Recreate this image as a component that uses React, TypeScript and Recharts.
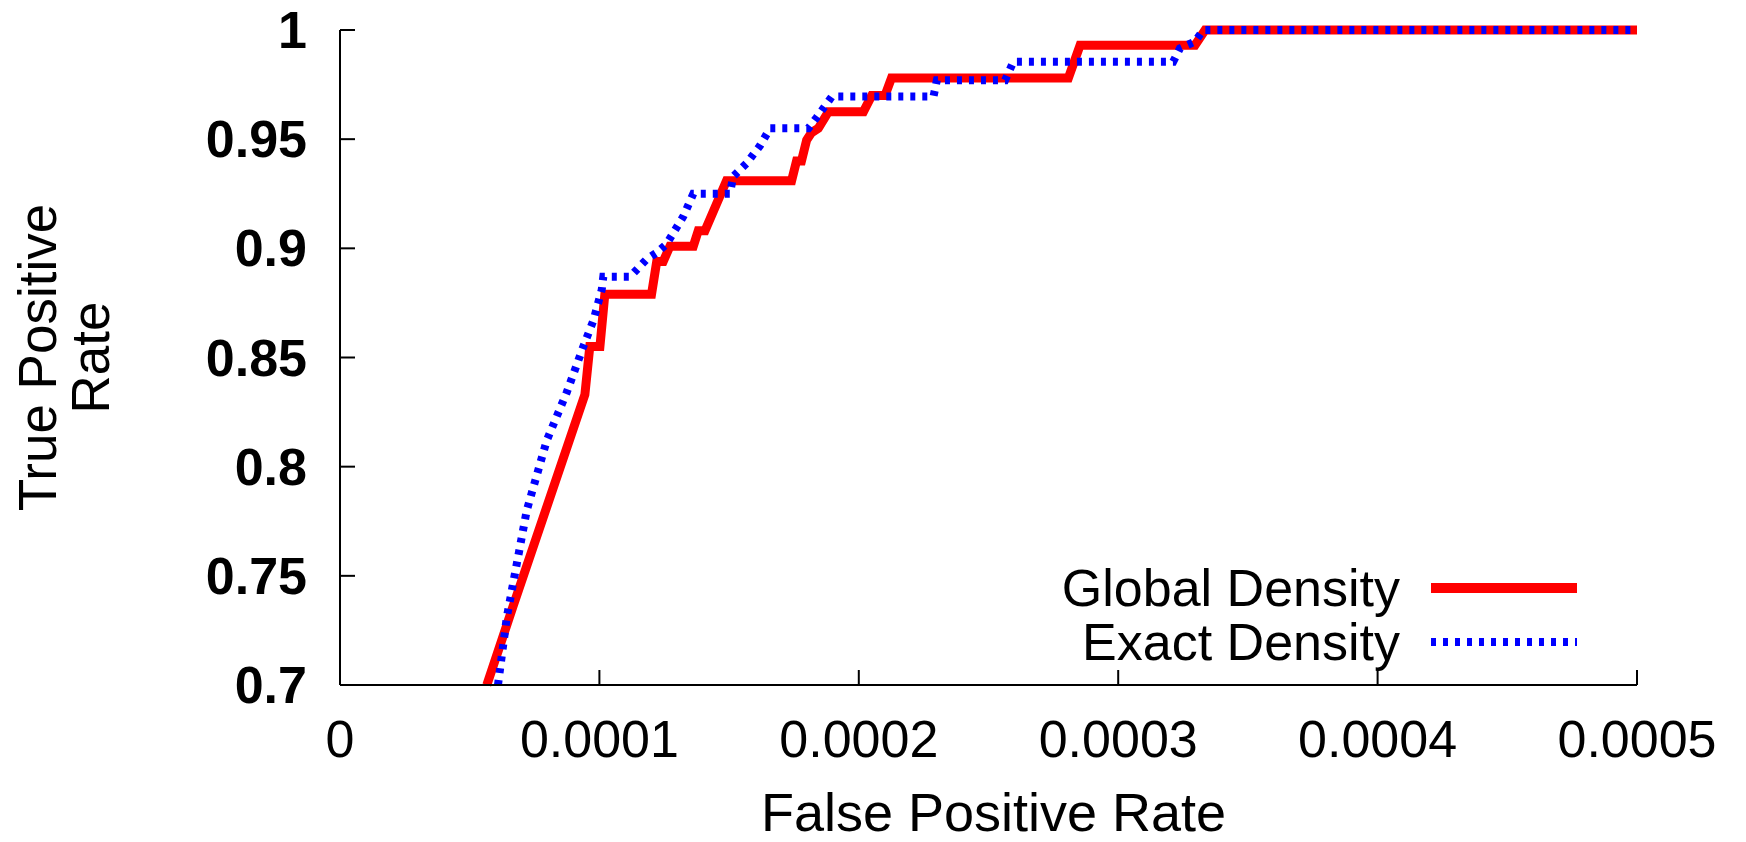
import React from "react";
import { LineChart, Line, XAxis, YAxis, Legend } from "recharts";

// ---------- data ----------
const globalX = [
  0.0000566, 0.0000667, 0.0000944, 0.0000963, 0.0001002, 0.0001021, 0.0001201, 0.0001221,
  0.0001246, 0.0001272, 0.0001362, 0.0001381, 0.0001407, 0.0001490, 0.0001741, 0.0001760,
  0.0001779, 0.0001799, 0.0001818, 0.0001844, 0.0001883, 0.0002018, 0.0002050, 0.0002101,
  0.0002126, 0.0002808, 0.0002853, 0.0003296, 0.0003335, 0.0005,
];
const globalY = [
  0.700, 0.736, 0.833, 0.855, 0.855, 0.879, 0.879, 0.894,
  0.894, 0.901, 0.901, 0.908, 0.908, 0.931, 0.931, 0.940,
  0.940, 0.9496, 0.953, 0.955, 0.9626, 0.9626, 0.970, 0.970,
  0.978, 0.978, 0.993, 0.993, 1.0, 1.0,
];
const exactX = [
  0.0000609, 0.0000643, 0.0000720, 0.0000797, 0.0000874, 0.0000938, 0.0000977, 0.0001009,
  0.0001015, 0.0001118, 0.0001182, 0.0001221, 0.0001259, 0.0001323, 0.0001362, 0.0001503,
  0.0001516, 0.0001568, 0.0001619, 0.0001658, 0.0001806, 0.0001838, 0.0001896, 0.0002288,
  0.0002301, 0.0002564, 0.0002596, 0.0003212, 0.0003238, 0.0003296, 0.0003328, 0.0005,
];
const exactY = [
  0.700, 0.731, 0.780, 0.812, 0.834, 0.855, 0.867, 0.881,
  0.887, 0.887, 0.895, 0.898, 0.902, 0.9145, 0.925, 0.925,
  0.933, 0.939, 0.947, 0.955, 0.955, 0.960, 0.9695, 0.9695,
  0.977, 0.977, 0.9855, 0.9855, 0.9916, 0.9947, 1.0, 1.0,
];
const seriesNames = ["Global Density", "Exact Density"];
const xTicks = [0, 0.0001, 0.0002, 0.0003, 0.0004, 0.0005];
const xTickLabels = ["0", "0.0001", "0.0002", "0.0003", "0.0004", "0.0005"];
const yTicks = [0.7, 0.75, 0.8, 0.85, 0.9, 0.95, 1];
const yTickLabels = ["0.7", "0.75", "0.8", "0.85", "0.9", "0.95", "1"];
const xTitle = "False Positive Rate";
const yTitleLines = ["True Positive", "Rate"];

const globalData = globalX.map((x, i) => ({ x, y: globalY[i] }));
const exactData = exactX.map((x, i) => ({ x, y: exactY[i] }));

// ---------- style ----------
const FONT = "'Liberation Sans', Arial, Helvetica, sans-serif";
const RED = "#ff0000";
const BLUE = "#0000ff";
const TICK_LEN = 15;
const AXIS_W = 2;

const findIdx = (arr: number[], v: number) => {
  let best = 0;
  for (let i = 0; i < arr.length; i++) {
    if (Math.abs(arr[i] - v) < Math.abs(arr[best] - v)) best = i;
  }
  return best;
};

const BottomTick = (props: any) => {
  const { x, y, payload } = props;
  const i = findIdx(xTicks, payload.value);
  return (
    <g>
      <line x1={x} y1={y} x2={x} y2={y - TICK_LEN} stroke="#000" strokeWidth={AXIS_W} />
      <text x={x} y={y + 72} textAnchor="middle" fontFamily={FONT} fontSize={52} fill="#000">
        {xTickLabels[i]}
      </text>
    </g>
  );
};

const TopTick = (props: any) => {
  const { x, y } = props;
  return <line x1={x} y1={y} x2={x} y2={y + TICK_LEN} stroke="#000" strokeWidth={AXIS_W} />;
};

const LeftTick = (props: any) => {
  const { x, y, payload } = props;
  const i = findIdx(yTicks, payload.value);
  return (
    <g>
      <line x1={x} y1={y} x2={x + TICK_LEN} y2={y} stroke="#000" strokeWidth={AXIS_W} />
      <text x={x - 33} y={y + 18} textAnchor="end" fontFamily={FONT} fontSize={52} fontWeight="bold" fill="#000">
        {yTickLabels[i]}
      </text>
    </g>
  );
};

const RightTick = (props: any) => {
  const { x, y } = props;
  return <line x1={x} y1={y} x2={x - TICK_LEN} y2={y} stroke="#000" strokeWidth={AXIS_W} />;
};

const XTitle = (props: any) => {
  const vb = props.viewBox || { x: 332, y: 677, width: 1297, height: 157 };
  const cx = vb.x + vb.width / 2 + 5;
  return (
    <text x={cx} y={vb.y + 146} textAnchor="middle" fontFamily={FONT} fontSize={54} fill="#000">
      {xTitle}
    </text>
  );
};

const YTitle = (props: any) => {
  const vb = props.viewBox || { x: 0, y: 22, width: 332, height: 655 };
  const cy = vb.y + vb.height / 2;
  return (
    <g>
      {yTitleLines.map((t, k) => {
        const bx = 48 + k * 53;
        return (
          <text
            key={k}
            x={bx}
            y={cy}
            transform={`rotate(-90 ${bx} ${cy})`}
            textAnchor="middle"
            fontFamily={FONT}
            fontSize={53}
            fill="#000"
          >
            {t}
          </text>
        );
      })}
    </g>
  );
};

const LegendContent = () => {
  const rows = [
    { name: seriesNames[0], color: RED, width: 10, dash: undefined as string | undefined },
    { name: seriesNames[1], color: BLUE, width: 8, dash: "5 7" },
  ];
  return (
    <div style={{ fontFamily: FONT, fontSize: 52, color: "#000" }}>
      {rows.map((r) => (
        <div key={r.name} style={{ display: "flex", alignItems: "center", height: 54, lineHeight: "54px" }}>
          <div style={{ width: 400, textAlign: "right", whiteSpace: "nowrap" }}>{r.name}</div>
          <svg width={146} height={20} style={{ marginLeft: 31, display: "block" }}>
            <line x1={0} y1={10} x2={146} y2={10} stroke={r.color} strokeWidth={r.width} strokeDasharray={r.dash} />
          </svg>
        </div>
      ))}
    </div>
  );
};

export default function App() {
  return (
    <div className="roc-wrap" style={{ width: 1730, height: 834, position: "relative" }}>
      <style>{".roc-wrap svg { overflow: visible; }"}</style>
      <LineChart width={1730} height={834} margin={{ top: 22, right: 101, left: 0, bottom: 0 }}>
        <XAxis
          xAxisId={0}
          dataKey="x"
          type="number"
          domain={[0, 0.0005]}
          ticks={xTicks}
          interval={0}
          height={157}
          tickSize={0}
          tickMargin={0}
          tickLine={false}
          tick={<BottomTick />}
          axisLine={{ stroke: "#000", strokeWidth: AXIS_W }}
          allowDecimals
          label={<XTitle />}
        />
        <XAxis
          xAxisId="top"
          orientation="top"
          dataKey="x"
          type="number"
          domain={[0, 0.0005]}
          ticks={xTicks}
          interval={0}
          height={0}
          tickSize={0}
          tickMargin={0}
          tickLine={false}
          tick={<TopTick />}
          axisLine={{ stroke: "#000", strokeWidth: AXIS_W }}
        />
        <YAxis
          yAxisId={0}
          type="number"
          domain={[0.7, 1]}
          ticks={yTicks}
          interval={0}
          width={332}
          tickSize={0}
          tickMargin={0}
          tickLine={false}
          tick={<LeftTick />}
          axisLine={{ stroke: "#000", strokeWidth: AXIS_W }}
          label={<YTitle />}
        />
        <YAxis
          yAxisId="right"
          orientation="right"
          type="number"
          domain={[0.7, 1]}
          ticks={yTicks}
          interval={0}
          width={0}
          tickSize={0}
          tickMargin={0}
          tickLine={false}
          tick={<RightTick />}
          axisLine={{ stroke: "#000", strokeWidth: AXIS_W }}
        />
        <Legend
          layout="horizontal"
          verticalAlign="middle"
          align="center"
          content={<LegendContent />}
          wrapperStyle={{ left: 992, top: 553, width: "auto", height: "auto" }}
        />
        <Line
          xAxisId={0}
          yAxisId={0}
          data={globalData}
          dataKey="y"
          type="linear"
          stroke={RED}
          strokeWidth={9}
          strokeLinejoin="miter"
          strokeLinecap="butt"
          dot={false}
          activeDot={false}
          isAnimationActive={false}
          name={seriesNames[0]}
        />
        <Line
          xAxisId={0}
          yAxisId={0}
          data={exactData}
          dataKey="y"
          type="linear"
          stroke={BLUE}
          strokeWidth={8}
          strokeDasharray="5 7"
          strokeLinejoin="miter"
          strokeLinecap="butt"
          dot={false}
          activeDot={false}
          isAnimationActive={false}
          name={seriesNames[1]}
        />
      </LineChart>
    </div>
  );
}
